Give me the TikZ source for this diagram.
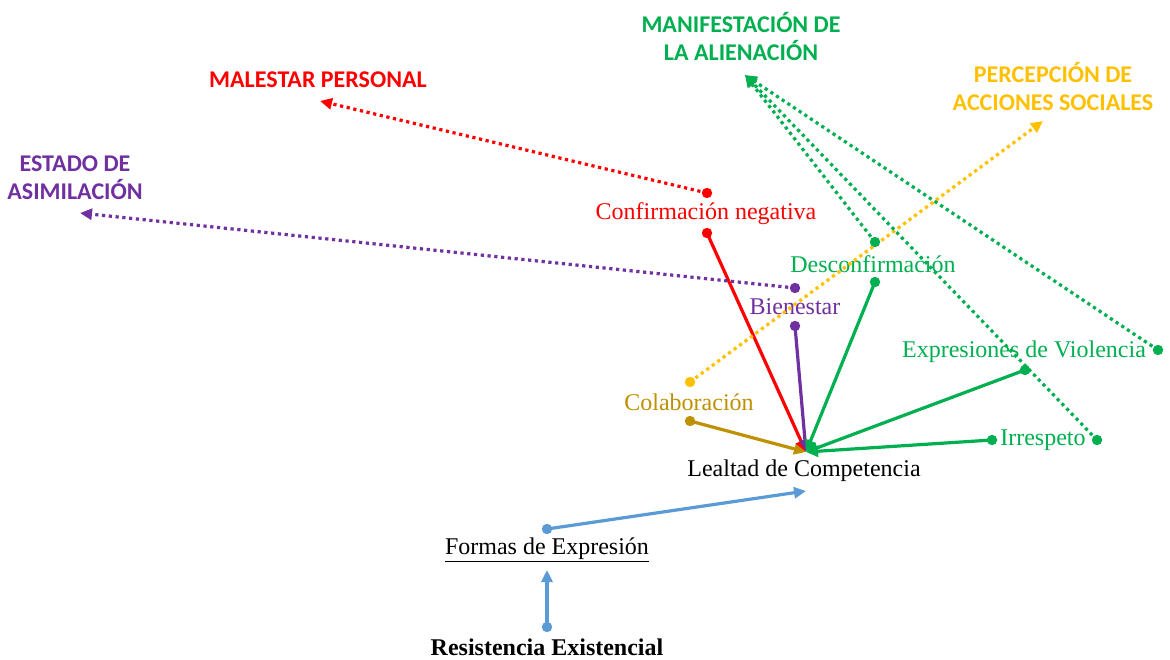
\documentclass[tikz,border=0pt]{standalone}
\usepackage{fontspec}
\setmainfont{Liberation Serif}
\newfontfamily\headfont{Carlito}
\usepackage{xcolor}
\usepackage{tikz}
\usetikzlibrary{arrows.meta}

\definecolor{formblue}{HTML}{5B9BD5}
\definecolor{alienred}{HTML}{FF0000}
\definecolor{alienpurple}{HTML}{7030A0}
\definecolor{aliengreen}{HTML}{00B050}
\definecolor{alienyellow}{HTML}{FFC000}
\definecolor{alienbrown}{HTML}{BF9000}

\tikzset{
    label text/.style = {font = \fontsize{24}{27}\selectfont, inner sep = 0pt},
    head text/.style = {font = \headfont\bfseries\fontsize{24}{28}\selectfont, align = center, inner sep = 0pt},
    solid arrow/.style = {line width = 3.2pt, -{Triangle[length = 12pt, width = 11pt]}},
    dotted arrow/.style = {line width = 3.2pt, dash pattern = on 3.2pt off 3.6pt, -{Triangle[length = 12pt, width = 11pt]}},
}

\begin{document}
\begin{tikzpicture}[x = 1pt, y = -1pt]
    \useasboundingbox (0, 0) rectangle (1170, 660);
    \fill [white] (0, 0) rectangle (1170, 660);
    % texts
    \node [label text, font = \bfseries\fontsize{24}{27}\selectfont] (res) at (547, 647) {Resistencia Existencial};
    \node [label text] (formas) at (547, 550) {\underline{Formas de Expresión}};
    \node [label text] (lealtad) at (804, 471) {Lealtad de Competencia};
    \node [label text, alienbrown] (colab) at (689, 402) {Colaboración};
    \node [label text, alienpurple] (bien) at (795, 307) {Bienestar};
    \node [label text, alienred] (confneg) at (706, 214) {Confirmación negativa};
    \node [label text, aliengreen] (desconf) at (873, 264) {Desconfirmación};
    \node [label text, aliengreen] (violencia) at (1024, 352) {Expresiones de Violencia};
    \node [label text, aliengreen] (irresp) at (1043, 440) {Irrespeto};
    \node [head text, aliengreen] (manif) at (741, 37) {MANIFESTACIÓN DE\\LA ALIENACIÓN};
    \node [head text, alienred] (malestar) at (318, 80) {MALESTAR PERSONAL};
    \node [head text, alienyellow] (percep) at (1053, 87) {PERCEPCIÓN DE\\ACCIONES SOCIALES};
    \node [head text, alienpurple] (estado) at (75, 178) {ESTADO DE\\ASIMILACIÓN};
    % end points
    \coordinate (lc) at (806, 452);
    \coordinate (lcb) at (806, 491);
    \coordinate (fe) at (547, 570);
    \coordinate (manifTip) at (745, 75);
    \coordinate (malestarTip) at (320, 101);
    \coordinate (percepTip) at (1043, 121);
    \coordinate (estadoTip) at (80, 213);
    \foreach \n/\x/\y in {resD/547/627, formasD/547/529, colabD/690/421, colabU/690/382,
        bienD/795/326, bienU/795/288, confnegD/707/233, confnegU/707/193,
        desconfD/875/282, desconfU/875/242, violenciaD/1025/370, violenciaU/1158/350,
        irrespD/992/440, irrespU/1097/440} {
        \coordinate (\n) at (\x, \y);
    }
    % blue chain
    \draw [solid arrow, formblue] (resD) -- (fe);
    \draw [solid arrow, formblue] (formasD) -- (lcb);
    % solid arrows into the centre
    \foreach \p\c in {colab/alienbrown, confneg/alienred, bien/alienpurple, desconf/aliengreen, violencia/aliengreen, irresp/aliengreen} {
        \draw [solid arrow, \c] (\p D) -- (lc);
    }
    % dotted arrows to the headings
    \foreach \p\t\c in {colab/percepTip/alienyellow, bien/estadoTip/alienpurple, confneg/malestarTip/alienred,
        desconf/manifTip/aliengreen, violencia/manifTip/aliengreen, irresp/manifTip/aliengreen} {
        \draw [dotted arrow, \c] (\p U) -- (\t);
    }
    % dots
    \foreach \n\c in {resD/formblue, formasD/formblue, colabD/alienbrown, colabU/alienyellow,
        bienD/alienpurple, bienU/alienpurple, confnegD/alienred, confnegU/alienred,
        desconfD/aliengreen, desconfU/aliengreen, violenciaD/aliengreen, violenciaU/aliengreen,
        irrespD/aliengreen, irrespU/aliengreen} {
        \fill [\c] (\n) circle (5.2);
    }
\end{tikzpicture}
\end{document}
